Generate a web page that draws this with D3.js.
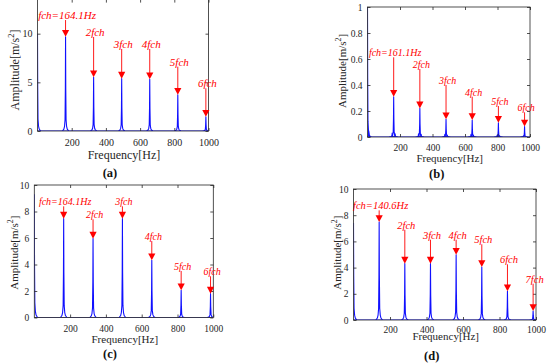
<!DOCTYPE html>
<html lang="en">
<head>
<meta charset="utf-8">
<title>fch spectra</title>
<script src="https://cdn.jsdelivr.net/npm/d3@7"></script>
<style>
  body { margin: 0; background: #fff; }
  svg { display: block; }
  svg text { font-family: "Liberation Serif", "Times New Roman", "DejaVu Serif", serif; }
</style>
</head>
<body>
<svg id="chart" width="550" height="364"></svg>
<script>
// values (first entry of each *Freq/*Amp is the DC line at 0 Hz)
var xTicks = [200, 400, 600, 800, 1000];

var aFreq    = [0, 164.1, 328.2, 492.3, 656.4, 820.5, 984.6];
var aAmp     = [10.0, 9.69, 5.52, 5.38, 5.31, 3.73, 1.47];
var aLabel   = ["fch=164.1Hz", "2fch", "3fch", "4fch", "5fch", "6fch"];
var aLabelAt = [11.4, 9.66, 8.43, 8.43, 6.61, 4.39];
var aYTicks  = [0, 5, 10];

var bFreq    = [0, 161.1, 322.2, 483.3, 644.4, 805.5, 966.6];
var bAmp     = [1.0, 0.31, 0.22, 0.136, 0.13, 0.11, 0.08];
var bLabel   = ["fch=161.1Hz", "2fch", "3fch", "4fch", "5fch", "6fch"];
var bLabelAt = [0.613, 0.523, 0.40, 0.31, 0.238, 0.19];
var bYTicks  = [0, 0.2, 0.4, 0.6, 0.8, 1];
// small side bumps visible in (b)
var bMinorFreq = [7, 152, 170, 314, 330, 476, 491, 637, 652, 798, 813, 960];
var bMinorAmp  = [0.05, 0.03, 0.025, 0.025, 0.02, 0.02, 0.015, 0.02, 0.015, 0.015, 0.01, 0.01];

var cFreq    = [0, 164.1, 328.2, 492.3, 656.4, 820.5, 984.6];
var cAmp     = [9.3, 7.46, 5.95, 7.46, 4.32, 2.05, 1.80];
var cLabel   = ["fch=164.1Hz", "2fch", "3fch", "4fch", "5fch", "6fch"];
var cLabelAt = [8.39, 7.41, 8.39, 5.77, 3.51, 3.11];
var cYTicks  = [0, 2, 4, 6, 8, 10];

var dFreq    = [0, 140.6, 281.2, 421.8, 562.4, 703, 843.6, 984.2];
var dAmp     = [7.4, 7.48, 4.30, 4.30, 4.98, 4.05, 2.19, 0.69];
var dLabel   = ["fch=140.6Hz", "2fch", "3fch", "4fch", "5fch", "6fch", "7fch"];
var dLabelAt = [8.37, 6.89, 6.13, 6.13, 5.78, 4.25, 2.77];
var dYTicks  = [0, 2, 4, 6, 8, 10];

// shape of one spectral line (Hz offset, fraction of peak height) - purely a drawing style
var PEAK_DF = [-18, -10, -6, -3, -1.2, 0, 1.2, 3, 6, 10, 18];
var PEAK_K  = [0, 0.02, 0.05, 0.12, 0.45, 1, 0.45, 0.12, 0.05, 0.02, 0];

var SERIF = "'Liberation Serif', 'Times New Roman', 'DejaVu Serif', serif";
var fmt = d3.format("~g");

var svg = d3.select("#chart");

var panels = [
  {id: "a", freq: aFreq, amp: aAmp, label: aLabel, labelAt: aLabelAt, yTicks: aYTicks,
   xr: [37.5, 208.5], yd: [0, 13.5], yr: [131, -0.4],
   tickFs: 10, axFs: 12, redFs: 11, xPad: 8, yPad: 5, xLabY: 159, yLabX: 19, yLabY: 70, capX: 110, capY: 176.5},
  {id: "b", freq: bFreq, amp: bAmp, label: bLabel, labelAt: bLabelAt, yTicks: bYTicks,
   minorFreq: bMinorFreq, minorAmp: bMinorAmp,
   xr: [367.5, 530], yd: [0, 1], yr: [137, 7],
   tickFs: 9.5, axFs: 11, redFs: 10, xPad: 7.5, yPad: 5, xLabY: 161.5, yLabX: 345.5, yLabY: 71, capX: 436.7, capY: 177.5},
  {id: "c", freq: cFreq, amp: cAmp, label: cLabel, labelAt: cLabelAt, yTicks: cYTicks,
   xr: [34.3, 213.3], yd: [0, 10], yr: [317.5, 185],
   tickFs: 9.5, axFs: 11, redFs: 10, xPad: 7.5, yPad: 5, xLabY: 342.5, yLabX: 17.5, yLabY: 252.7, capX: 110, capY: 358},
  {id: "d", freq: dFreq, amp: dAmp, label: dLabel, labelAt: dLabelAt, yTicks: dYTicks,
   xr: [353.5, 536], yd: [0, 10], yr: [320, 189],
   tickFs: 9.5, axFs: 11, redFs: 10.5, xPad: 5.8, yPad: 5, xLabY: 340, yLabX: 341, yLabY: 252.7, capX: 431.7, capY: 359.5}
];

panels.forEach(drawPanel);

function drawPanel(p) {
  var x = d3.scaleLinear().domain([0, 1000]).range(p.xr);
  var y = d3.scaleLinear().domain(p.yd).range(p.yr);
  var g = svg.append("g").attr("class", "panel-" + p.id);

  var left = p.xr[0], right = p.xr[1], bottom = p.yr[0], top = p.yr[1];

  g.append("clipPath").attr("id", "clip-" + p.id)
    .append("rect").attr("x", left).attr("y", top)
    .attr("width", right - left).attr("height", bottom - top);

  // spectrum: baseline + one narrow line per component
  var line = d3.line().x(d => x(d[0])).y(d => y(d[1]));
  var spec = g.append("g").attr("clip-path", "url(#clip-" + p.id + ")")
    .attr("fill", "none").attr("stroke", "#1010ff").attr("stroke-width", 1.1)
    .attr("stroke-linejoin", "round");

  spec.append("path").attr("d", line([[0, 0], [1000, 0]]));

  var comps = p.freq.map((f, i) => [f, p.amp[i]]);
  if (p.minorFreq) p.minorFreq.forEach((f, i) => comps.push([f, p.minorAmp[i]]));

  comps.forEach(function(c) {
    var pts = [];
    PEAK_DF.forEach(function(df, k) {
      if (c[0] + df < 0) return;
      pts.push([c[0] + df, c[1] * PEAK_K[k]]);
    });
    spec.append("path").attr("d", line(pts));
  });

  // box + inward ticks
  g.append("rect").attr("x", left).attr("y", top)
    .attr("width", right - left).attr("height", bottom - top)
    .attr("fill", "none").attr("stroke", "#262626").attr("stroke-width", 0.8);

  var xAxis = g.append("g").attr("transform", `translate(0,${bottom})`)
    .call(d3.axisBottom(x).tickValues(xTicks).tickFormat(fmt).tickSizeInner(-3).tickSizeOuter(0).tickPadding(p.xPad));
  var yAxis = g.append("g").attr("transform", `translate(${left},0)`)
    .call(d3.axisLeft(y).tickValues(p.yTicks).tickFormat(fmt).tickSizeInner(-3).tickSizeOuter(0).tickPadding(p.yPad));
  var xTop = g.append("g").attr("transform", `translate(0,${top})`)
    .call(d3.axisTop(x).tickValues(xTicks).tickSizeInner(-3).tickSizeOuter(0).tickFormat(""));
  var yRight = g.append("g").attr("transform", `translate(${right},0)`)
    .call(d3.axisRight(y).tickValues(p.yTicks).tickSizeInner(-3).tickSizeOuter(0).tickFormat(""));

  [xAxis, yAxis, xTop, yRight].forEach(function(a) {
    a.attr("font-family", SERIF);
    a.select(".domain").remove();
    a.selectAll("line").attr("stroke", "#262626").attr("stroke-width", 0.8);
    a.selectAll("text").attr("fill", "#262626")
      .attr("font-family", SERIF)
      .attr("font-size", p.tickFs);
  });

  // axis titles
  g.append("text")
    .attr("x", (left + right) / 2 + 1).attr("y", p.xLabY)
    .attr("text-anchor", "middle").attr("fill", "#262626")
    .attr("font-family", SERIF).attr("font-size", p.axFs)
    .text("Frequency[Hz]");

  var yl = g.append("text")
    .attr("transform", `translate(${p.yLabX},${p.yLabY}) rotate(-90)`)
    .attr("text-anchor", "middle").attr("fill", "#262626")
    .attr("font-family", SERIF).attr("font-size", p.axFs);
  yl.append("tspan").text("Amplitude[m/s");
  yl.append("tspan").attr("dy", -p.axFs * 0.4).attr("font-size", p.axFs * 0.7).text("2");
  yl.append("tspan").attr("dy", p.axFs * 0.4).text("]");

  // caption
  g.append("text")
    .attr("x", p.capX).attr("y", p.capY)
    .attr("text-anchor", "middle").attr("fill", "#111")
    .attr("font-family", SERIF).attr("font-size", 12.5).attr("font-weight", "bold")
    .text("(" + p.id + ")");

  // red harmonic arrows
  var ann = g.append("g").attr("fill", "#ff0000").attr("stroke", "none");
  p.label.forEach(function(lab, i) {
    var xp = x(p.freq[i + 1]);
    var tip = y(p.amp[i + 1]);
    var tail = y(p.labelAt[i]);
    ann.append("line")
      .attr("x1", xp).attr("x2", xp)
      .attr("y1", tail).attr("y2", tip - 6)
      .attr("stroke", "#ff0000").attr("stroke-width", 0.9);
    ann.append("path")
      .attr("d", `M${xp - 3.6},${tip - 6.8}L${xp + 3.6},${tip - 6.8}L${xp},${tip}Z`);
    ann.append("text")
      .attr("x", xp + 1.5).attr("y", tail - 1)
      .attr("text-anchor", "middle")
      .attr("font-family", SERIF).attr("font-size", p.redFs).attr("font-style", "italic")
      .text(lab);
  });
}
</script>
</body>
</html>
